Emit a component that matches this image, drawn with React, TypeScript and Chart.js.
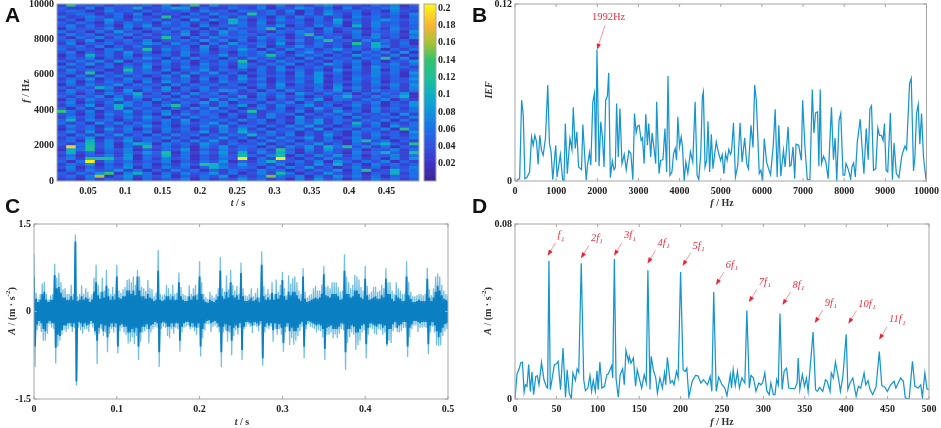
import { useEffect, useRef } from 'react';
import { Chart, registerables } from 'chart.js';

Chart.register(...registerables);
Chart.defaults.font.family = '"Liberation Serif", serif';

const RED = '#f0303f';
const TICK_FONT = { size: 10, weight: 'bold' as const };

// Panel A: time-frequency map, rows run from 10000 Hz down to 0 Hz, one char per cell (base 36, x0.01)
const heatRows = [
  '3c54635446 3725c38454 4637353684 54364725',
  '5337264593 4698253364 3725486352 73546834',
  '4652374536 3546374526 5463725374 46352743',
  '3465246372 5342637453 c463526385 36254637',
  '6347536254 3c36452637 4526374635 27463526',
  '3526485374 63528374a5 2637452639 45368646',
  '5364273645 27463514a6 3725463548 26374536',
  '4736352748 3546273546 3648253746 2a374635',
  '2645473625 7364526374 46c3546273 54263745',
  '6352638452 4637253846 3526475362 47354628',
  '3746254736 3548263745 536426c354 36274536',
  '5264736253 4c52637456 3746253846 26473527',
  '4638254637 2546384726 25364735c4 53746352',
  '3725463548 6374526384 4638253645 3c4a5362',
  '5463725364 3546283746 3725484635 264a7354',
  '635426734c 3746372548 5263746358 46372536',
  '4725363846 2537463526 4736258463 52647382',
  '253a463725 4637254836 46c5374625 38463725',
  '3647253648 5263745263 7463527364 5364c372',
  '5364738254 374625364c 2537463526 47362548',
  '2748362537 4635274638 5364725386 36254736',
  '6352463748 2537463528 4637254635 27384653',
  '3746523c46 3725483645 2637463528 46372635',
  '463c253746 5263748352 4635273846 25374628',
  '5263746352 4738254637 2546374825 36473526',
  '3648253746 2546372638 4725364835 27463548',
  '4725364627 3846253746 3526473825 46372546',
  '2637458364 5273646352 4738254637 25364738',
  '5364a72546 3826473546 2637453628 47352637',
  '3746253826 4735264873 5263743648 26374536',
  '46253746a3 5263746253 3746285364 72536482',
  '5364726385 4627354638 2637452536 a53746a2',
  '2637458362 7364528374 4625374826 53647253',
  '4725363746 2536483725 5364726354 36472538',
  '364825a746 37c5263748 2637458362 47362548',
  '526374a364 5263748352 4736253846 25374636',
  'e637254836 4725364625 c346372538 46273546',
  '4526374635 2837465263 5374625364 73546283',
  '3746253748 5263746352 6374283546 27354637',
  '5a37462536 4738254637 4625374836 53647263',
  '6352847365 2637458362 4635274836 3a472536',
  '3746253648 4625374836 5263748352 47362846',
  '2546384725 3746253748 3625473826 536472c5',
  '4738253647 263548374a 5374625364 27463528',
  '5263748352 6374625364 a463725384 26374536',
  '3648253746 4735264836 2637458362 47362547',
  '462a374836 5263748352 5374625364 27b46253',
  '536b4726a8 2746385364 4725364835 2637a53c',
  '3j5c47263c 4635274836 52637483a6 c4736254',
  '2a6c364725 3648253746 463c527384 36254736',
  '4a36253748 5c2637483a 374a625364 2746a53c',
  '3625473826 4a3625374b 537b263748 36254736',
  '473ccc5826 374625364k 263k425374 46352738',
  '526k374635 4725364825 36a5463728 53647253',
  '3648253746 25374ca648 463725384a 36274635',
  '4725364826 374625a746 5263748352 47362547',
  '2637458362 5374625364 3746253648 26c34a56',
  '53648e27a6 2637458362 473b625384 36254a36',
  '4637g25836 4725364825 35f6472638 47362546',
  '3426354726 3547263548 4635273846 25374635',
];
const heatStart = 0.0085;
const heatStep = 0.01277;
const heatEnd = 0.4937;
const aTimeTicks = [0.05, 0.1, 0.15, 0.2, 0.25, 0.3, 0.35, 0.4, 0.45];
const aFreqTicks = [0, 2000, 4000, 6000, 8000, 10000];
const barTicks = [0.02, 0.04, 0.06, 0.08, 0.1, 0.12, 0.14, 0.16, 0.18, 0.2];

// colour stops picked off the colour bar: [value, r, g, b]
const colourStops = [
  [0, 62, 38, 150],
  [0.02, 62, 52, 195],
  [0.04, 50, 82, 225],
  [0.06, 28, 112, 232],
  [0.08, 14, 148, 222],
  [0.1, 15, 175, 195],
  [0.12, 30, 190, 150],
  [0.14, 50, 195, 110],
  [0.16, 170, 195, 50],
  [0.18, 250, 180, 50],
  [0.205, 250, 250, 20],
];

// Panel B
const bFreq = [
  16, 113, 161, 201, 241, 290, 354, 402, 442, 483, 523, 563, 603, 644, 684, 740, 796, 837, 877, 917, 990, 1022, 1102,
  1158, 1191, 1223, 1271, 1335, 1384, 1416, 1464, 1504, 1545, 1617, 1649, 1730, 1762, 1810, 1842, 1891, 1931, 1963,
  1992, 2043, 2084, 2124, 2164, 2204, 2245, 2277, 2317, 2365, 2405, 2438, 2470, 2510, 2550, 2599, 2655, 2703, 2767,
  2816, 2864, 2904, 2944, 2977, 3017, 3065, 3097, 3138, 3178, 3218, 3250, 3298, 3331, 3379, 3419, 3443, 3500, 3540,
  3596, 3644, 3685, 3717, 3765, 3813, 3854, 3894, 3926, 3958, 3998, 4039, 4071, 4111, 4151, 4200, 4264, 4320, 4377,
  4425, 4465, 4513, 4553, 4578, 4618, 4658, 4690, 4730, 4771, 4811, 4851, 4891, 4940, 4996, 5035, 5076, 5116, 5156,
  5196, 5237, 5261, 5309, 5357, 5414, 5470, 5518, 5582, 5631, 5671, 5735, 5784, 5824, 5864, 5936, 5977, 6017, 6057,
  6113, 6154, 6210, 6274, 6323, 6371, 6411, 6459, 6524, 6564, 6636, 6677, 6709, 6757, 6797, 6829, 6894, 6958, 6990,
  7047, 7103, 7167, 7224, 7264, 7304, 7352, 7385, 7417, 7449, 7497, 7554, 7610, 7690, 7739, 7779, 7819, 7875, 7916,
  7972, 8012, 8044, 8093, 8157, 8189, 8229, 8270, 8318, 8390, 8439, 8479, 8535, 8583, 8624, 8664, 8712, 8768, 8817,
  8857, 8905, 8945, 8978, 9018, 9058, 9122, 9171, 9211, 9267, 9331, 9396, 9428, 9476, 9516, 9589, 9629, 9685, 9718,
  9758, 9798, 9838, 9879, 9927, 9991,
];
const bValue = [
  0, 0.0016, 0.0548, 0.0446, 0.0016, 0.0023, 0.0061, 0.0299, 0.0242, 0.031, 0.0265, 0.0113, 0.031, 0.0208, 0.0174,
  0.0288, 0.065, 0.0254, 0.0197, 0.0009, 0.0242, 0.0027, 0.0179, 0.0009, 0, 0.039, 0.005, 0.0288, 0.0213, 0.0499, 0.022,
  0.0333, 0.0095, 0.0077, 0.0383, 0.0005, 0.0107, 0.0193, 0.0107, 0.0537, 0.0594, 0.0129, 0.0891, 0.01, 0.0401, 0.0299,
  0.0095, 0.0548, 0.0576, 0.0734, 0.0023, 0.0136, 0.0077, 0.0091, 0.0526, 0.0163, 0.0492, 0.0118, 0.0181, 0.0077,
  0.0204, 0.0186, 0.0009, 0.0458, 0.0326, 0.0372, 0.0378, 0.0276, 0.0292, 0.0118, 0.0453, 0.0242, 0.039, 0.0163, 0.0326,
  0.0220, 0.0118, 0.0537, 0.005, 0.0140, 0.0145, 0.0356, 0.0061, 0.0711, 0.0039, 0.0061, 0.0186, 0.022, 0.0140, 0.0435,
  0.0231, 0.0299, 0.0231, 0, 0.0129, 0.0054, 0.0197, 0.0129, 0.0537, 0.0039, 0.0009, 0.0174, 0.0571, 0.0605, 0.0095,
  0.0140, 0.0405, 0.0061, 0.0317, 0.0084, 0.0181, 0.0265, 0.0197, 0.014, 0.0179, 0.005, 0.0186, 0.014, 0.0215, 0.0181,
  0.0197, 0.0394, 0.0027, 0.0107, 0.0394, 0.0129, 0.0292, 0.0118, 0.0084, 0.0378, 0.0227, 0.065, 0.0548, 0.005, 0.0073,
  0, 0.0288, 0.0129, 0.0091, 0.0043, 0.0231, 0.0487, 0.0027, 0.0378, 0.0032, 0.0208, 0.0095, 0.0367, 0.01, 0.0107,
  0.0231, 0.0016, 0.0249, 0.0242, 0.014, 0.0548, 0.0227, 0.0009, 0.0009, 0.0621, 0.0326, 0.0462, 0.0469, 0.01, 0.0621,
  0.0118, 0.0168, 0.0129, 0.0016, 0.0499, 0.0145, 0.0292, 0, 0.0412, 0.0458, 0.0039, 0.0039, 0.0118, 0.0084, 0.0016,
  0.0095, 0.0122, 0.0027, 0.0265, 0.0419, 0.0208, 0.005, 0.0356, 0.0145, 0.0487, 0.051, 0.0073, 0.0084, 0.036, 0.031,
  0.031, 0.0276, 0.039, 0.0073, 0.0061, 0.0462, 0.0009, 0.0258, 0.005, 0.0023, 0.0163, 0.0197, 0.0236, 0.0213, 0.0662,
  0.0696, 0.0068, 0.0163, 0.0458, 0.0519, 0.0249, 0.0458, 0.0163, 0.0005,
];
const bFreqTicks = [0, 1000, 2000, 3000, 4000, 5000, 6000, 7000, 8000, 9000, 10000];
const bValueTicks = [0, 0.12];

// Panel C: signal read as envelopes every 0.0025 s, in units of 0.01 m/s2
const cStep = 0.0025;
const cUpper = [
  98, 32, 22, 30, 48, 51, 30, 20, 28, 30, 82, 58, 66, 50, 38, 40, 30, 30, 46, 30, 132, 26, 30, 45, 30, 40, 34, 24, 30, 58,
  80, 46, 34, 58, 36, 71, 40, 30, 42, 30, 80, 36, 32, 38, 42, 54, 56, 50, 60, 46, 71, 60, 42, 40, 35, 54, 40, 38, 26, 32,
  105, 30, 28, 30, 46, 40, 30, 46, 30, 32, 67, 42, 30, 28, 26, 45, 30, 40, 46, 30, 86, 50, 30, 24, 22, 34, 28, 24, 30, 40,
  93, 40, 34, 62, 38, 71, 46, 36, 44, 30, 84, 40, 28, 26, 30, 40, 26, 32, 40, 24, 103, 44, 30, 38, 30, 51, 30, 55, 34, 46,
  68, 40, 28, 62, 48, 57, 60, 50, 36, 30, 74, 34, 24, 28, 30, 40, 44, 36, 36, 46, 78, 42, 44, 40, 50, 50, 50, 42, 34, 36,
  98, 60, 50, 40, 46, 63, 60, 55, 42, 36, 78, 44, 30, 34, 42, 43, 34, 36, 46, 40, 74, 50, 50, 36, 30, 50, 40, 36, 30, 30,
  86, 50, 34, 26, 26, 28, 30, 30, 28, 30, 75, 38, 28, 40, 60, 65, 60, 46, 36, 30, 28,
];
const cLower = [
  -95, -32, -25, -35, -50, -50, -38, -22, -28, -30, -89, -60, -50, -40, -32, -35, -30, -26, -35, -28, -127, -28, -32, -38,
  -30, -30, -35, -22, -28, -40, -90, -38, -30, -42, -36, -70, -38, -30, -36, -28, -72, -34, -28, -36, -40, -55, -52, -44,
  -56, -42, -83, -52, -36, -34, -30, -55, -36, -30, -26, -28, -95, -30, -26, -28, -42, -46, -30, -38, -28, -30, -69, -36,
  -28, -26, -24, -30, -28, -34, -40, -28, -77, -46, -32, -22, -22, -35, -26, -24, -28, -36, -95, -36, -32, -52, -36, -75,
  -42, -32, -40, -28, -83, -30, -26, -22, -26, -37, -24, -26, -34, -22, -93, -36, -28, -30, -26, -52, -30, -40, -30, -40,
  -69, -36, -26, -58, -46, -57, -50, -42, -34, -26, -80, -30, -22, -26, -28, -30, -36, -32, -34, -44, -83, -40, -40, -36,
  -46, -40, -46, -38, -30, -32, -100, -54, -44, -36, -40, -66, -58, -50, -36, -32, -80, -40, -28, -30, -38, -40, -30, -32,
  -40, -36, -60, -50, -54, -34, -28, -35, -36, -34, -28, -28, -78, -44, -30, -24, -24, -35, -28, -28, -26, -28, -73, -36,
  -26, -36, -58, -59, -58, -42, -34, -30, -35,
];
// the darker body of the trace, same sampling
const cCore = [
  60, 22, 16, 20, 30, 34, 20, 16, 20, 20, 62, 40, 42, 32, 24, 24, 20, 20, 26, 20, 120, 18, 20, 26, 20, 24, 22, 16, 20, 34,
  50, 28, 22, 34, 24, 44, 26, 20, 26, 20, 60, 24, 22, 26, 26, 36, 36, 30, 36, 28, 60, 36, 26, 26, 22, 30, 24, 22, 18, 20,
  70, 20, 18, 20, 26, 26, 20, 26, 20, 20, 50, 26, 20, 18, 18, 26, 20, 26, 28, 20, 60, 30, 20, 16, 15, 20, 18, 16, 20, 26,
  70, 26, 22, 34, 24, 50, 28, 24, 28, 20, 66, 26, 18, 18, 20, 24, 18, 20, 24, 16, 80, 26, 20, 24, 20, 32, 20, 30, 22, 28,
  54, 26, 20, 34, 28, 34, 34, 28, 22, 18, 60, 22, 16, 18, 20, 22, 24, 22, 24, 30, 64, 28, 26, 24, 30, 30, 30, 26, 20, 22,
  70, 30, 30, 24, 26, 36, 36, 30, 24, 22, 56, 28, 20, 22, 24, 26, 22, 22, 28, 24, 56, 30, 30, 22, 18, 28, 24, 22, 18, 18,
  60, 28, 22, 16, 16, 18, 20, 18, 18, 18, 56, 24, 18, 24, 34, 44, 36, 28, 22, 20, 18,
];
const cTimeTicks = [0, 0.1, 0.2, 0.3, 0.4, 0.5];
const cAmpTicks = [-1.5, 0, 1.5];

// Panel D
const dFreq = [
  0, 2.4, 5, 7, 9, 11, 12.5, 14.5, 16.5, 18.5, 20.5, 22.5, 25, 27, 29, 32, 35, 38, 39.4, 41, 42.6, 45, 47.5, 50, 52, 55, 58,
  61, 63, 65.5, 68, 70, 73, 75, 77, 80, 83, 85, 88, 90.5, 92.5, 94.5, 97, 99, 100.5, 102.5, 105, 108, 111, 112.6, 116.7, 118,
  120, 122, 124.7, 127, 130, 132, 134, 137, 138, 140, 143, 145.6, 147.6, 150, 153, 156, 158.5, 160.5, 163, 164.5, 167, 170,
  172, 175, 178, 180.6, 182, 184, 187.5, 190, 192, 195, 197, 200, 203, 205.5, 207.5, 210, 214, 218, 221, 224.5, 227.7, 232.5,
  235.7, 237.7, 240, 243, 246, 250, 253.4, 256, 260, 261.5, 263.5, 266, 268.7, 271, 274, 277.6, 280, 283, 285, 288, 291,
  294.4, 297, 299, 301.7, 304, 307, 309, 312, 314, 316, 318, 320, 322.6, 325, 328, 330.6, 334.7, 338, 340.7, 342, 344, 347,
  349.6, 352, 354, 360, 363, 365, 368, 371.7, 375, 377, 380.5, 382, 384.5, 387, 390.6, 393, 396, 400, 402, 404.7, 408, 412,
  414.7, 417.5, 421.6, 423.6, 426.4, 428.8, 432, 436, 440, 443, 446.5, 449.7, 453.7, 457.8, 460, 465.8, 469, 471.4, 476, 480,
  483, 487, 490, 492, 495, 497.5, 500,
];
const dValue = [
  0, 0.0114, 0.0138, 0.0166, 0.0169, 0.0032, 0.0065, 0.0058, 0.0157, 0.0035, 0.0123, 0.002, 0.0103, 0.0106, 0.0065, 0.0167,
  0.0088, 0.0055, 0.005, 0.0632, 0.0043, 0.0096, 0.0157, 0.0161, 0.0172, 0.0043, 0.0233, 0.0008, 0.0134, 0.0027, 0.0002,
  0.0119, 0.0085, 0.0137, 0.0122, 0.062, 0.0088, 0.0038, 0.005, 0.0108, 0.0035, 0.0085, 0.0035, 0.0129, 0.0043, 0.0169, 0.005,
  0.0058, 0.0111, 0.0114, 0.0152, 0.0096, 0.064, 0.0096, 0.0008, 0.0111, 0.0138, 0.0065, 0.0222, 0.0172, 0.0195, 0.0164,
  0.0187, 0.0058, 0.0134, 0.0096, 0.005, 0.0111, 0.0073, 0.0588, 0.0043, 0.0195, 0.0134, 0.0096, 0.0027, 0.0096, 0.005,
  0.0119, 0.0065, 0.019, 0.0073, 0.0084, 0.0065, 0.0126, 0.0096, 0.0581, 0.0134, 0.0126, 0.0141, 0.0009, 0.0081, 0.0108,
  0.0106, 0.0073, 0.0088, 0.0065, 0.0103, 0.0035, 0.0489, 0.0035, 0.01, 0.0065, 0.005, 0.0015, 0.0111, 0.005, 0.0134, 0.0061,
  0.0126, 0.005, 0.0096, 0.0073, 0.0404, 0.005, 0.0108, 0.0096, 0.0035, 0.0073, 0.0065, 0.0073, 0.0119, 0.0038, 0.002, 0.0073,
  0.002, 0.002, 0.0088, 0.0065, 0.0391, 0.0043, 0.0126, 0.0141, 0.005, 0.0047, 0.0047, 0.0073, 0.0187, 0.0043, 0.0111, 0.0058,
  0.0096, 0.0035, 0.0306, 0.0043, 0.0035, 0.0053, 0.0035, 0.0088, 0.0081, 0.0035, 0.0119, 0.0096, 0.0169, 0.0096, 0.0035,
  0.0103, 0.0296, 0.0043, 0.0073, 0.0096, 0.0012, 0.0058, 0.005, 0.0119, 0.0065, 0.0084, 0.0043, 0.002, 0.0055, 0.0217, 0.0062,
  0.0055, 0.0035, 0.0065, 0.0081, 0.005, 0.0096, 0.0081, 0.0005, 0, 0.0172, 0.0058, 0.005, 0.0065, 0.0008, 0.0119, 0.0046,
  0.0044,
];
const dFreqTicks = [0, 50, 100, 150, 200, 250, 300, 350, 400, 450, 500];
const dValueTicks = [0, 0.08];

// harmonic labels of panel D and where their arrows end
const noteLabels = ['f', '2f', '3f', '4f', '5f', '6f', '7f', '8f', '9f', '10f', '11f'];
const noteFreq = [39.4, 79.6, 119.5, 160, 202.3, 242.6, 282.4, 323, 362, 402.6, 439.7];
const noteValue = [0.0655, 0.0643, 0.0655, 0.062, 0.0608, 0.0521, 0.0442, 0.043, 0.0347, 0.0344, 0.0271];

const cellValue = (ch: string) => {
  const v = parseInt(ch, 36);
  return Number.isNaN(v) ? 0.04 : v / 100;
};

const colourFor = (v: number) => {
  for (let i = 1; i < colourStops.length; i++) {
    const a = colourStops[i - 1];
    const b = colourStops[i];
    if (v <= b[0]) {
      const k = (v - a[0]) / (b[0] - a[0]);
      const c = [1, 2, 3].map((j) => Math.round(a[j] + (b[j] - a[j]) * k));
      return `rgb(${c[0]},${c[1]},${c[2]})`;
    }
  }
  return 'rgb(250,250,20)';
};

// boxed frame with short inward ticks, like the MATLAB axes of the figure
const framePlugin = {
  id: 'frame',
  afterDatasetsDraw(chart: any) {
    const { ctx, chartArea: area, scales } = chart;
    const noTicks = chart.options.plugins.frame?.noTicks;
    ctx.save();
    ctx.strokeStyle = '#a6a6a6';
    ctx.lineWidth = 1;
    ctx.strokeRect(area.left, area.top, area.right - area.left, area.bottom - area.top);
    if (!noTicks) {
      ctx.beginPath();
      scales.x.ticks.forEach((t: any) => {
        const px = scales.x.getPixelForValue(t.value);
        ctx.moveTo(px, area.bottom);
        ctx.lineTo(px, area.bottom - 3);
        ctx.moveTo(px, area.top);
        ctx.lineTo(px, area.top + 3);
      });
      scales.y.ticks.forEach((t: any) => {
        const py = scales.y.getPixelForValue(t.value);
        ctx.moveTo(area.left, py);
        ctx.lineTo(area.left + 3, py);
        ctx.moveTo(area.right, py);
        ctx.lineTo(area.right - 3, py);
      });
      ctx.stroke();
    }
    ctx.restore();
  },
};

const drawArrow = (ctx: any, x: number, y: number, tailX: number, tailY: number) => {
  const len = Math.hypot(tailX - x, tailY - y);
  const ux = (tailX - x) / len;
  const uy = (tailY - y) / len;
  ctx.strokeStyle = '#f58a93';
  ctx.lineWidth = 0.9;
  ctx.beginPath();
  ctx.moveTo(x + ux * 3, y + uy * 3);
  ctx.lineTo(tailX, tailY);
  ctx.stroke();
  ctx.fillStyle = '#ee2035';
  ctx.beginPath();
  ctx.moveTo(x, y);
  ctx.lineTo(x + ux * 6 - uy * 2.2, y + uy * 6 + ux * 2.2);
  ctx.lineTo(x + ux * 6 + uy * 2.2, y + uy * 6 - ux * 2.2);
  ctx.closePath();
  ctx.fill();
};

// arrows sit on data positions, the texts hang off their tails
const notesPlugin = {
  id: 'notes',
  afterDatasetsDraw(chart: any) {
    const { ctx, scales } = chart;
    const notes = chart.options.plugins.notes?.items ?? [];
    ctx.save();
    ctx.textBaseline = 'middle';
    notes.forEach((n: any) => {
      const x = scales.x.getPixelForValue(n.x);
      const y = scales.y.getPixelForValue(n.y);
      drawArrow(ctx, x, y, x + n.tailX, y + n.tailY);
      ctx.fillStyle = RED;
      ctx.font = n.font;
      ctx.fillText(n.text, x + n.textX, y + n.textY);
      if (n.sub) {
        const w = ctx.measureText(n.text).width;
        ctx.font = 'italic 7px "Liberation Serif"';
        ctx.fillText(n.sub, x + n.textX + w + 0.5, y + n.textY + 3);
      }
    });
    ctx.restore();
  },
};

const axisX = (ticks: number[], min: number, max: number, height: number, extra = {}) => ({
  type: 'linear',
  min,
  max,
  offset: false,
  grid: { display: false, drawTicks: false },
  border: { display: false },
  afterBuildTicks: (s: any) => {
    s.ticks = ticks.map((value) => ({ value }));
  },
  afterFit: (s: any) => {
    s.height = height;
  },
  ticks: {
    autoSkip: false,
    maxRotation: 0,
    padding: 4,
    color: '#222',
    font: TICK_FONT,
    callback: (v: number) => String(v),
  },
  ...extra,
});

const axisY = (ticks: number[], min: number, max: number, width: number, extra = {}, padding = 3) => ({
  type: 'linear',
  min,
  max,
  grid: { display: false, drawTicks: false },
  border: { display: false },
  afterBuildTicks: (s: any) => {
    s.ticks = ticks.map((value) => ({ value }));
  },
  afterFit: (s: any) => {
    s.width = width;
  },
  ticks: {
    autoSkip: false,
    padding,
    color: '#222',
    font: TICK_FONT,
    callback: (v: number) => String(v),
  },
  ...extra,
});

const baseOptions = (plugins = {}) => ({
  responsive: false,
  animation: false,
  events: [],
  layout: { padding: { top: 10, right: 14 } },
  plugins: { legend: { display: false }, tooltip: { enabled: false }, ...plugins },
});

const line = (xs: number[], ys: number[]) => xs.map((x, i) => ({ x, y: ys[i] }));

// zigzag between two envelopes so the trace fills up like the dense recording
const zigzag = (ups: number[], downs: number[]) =>
  ups.flatMap((u, i) => [
    { x: i * cStep, y: u / 100 },
    { x: (i + 0.5) * cStep, y: downs[i] / 100 },
  ]);

const heatCells = heatRows.map((r) => r.replace(/ /g, ''));
const heatColumns = heatCells[0].split('').map((_, i) => heatStart + (i + 0.5) * heatStep);

const heatmapConfig = () => ({
  type: 'bar',
  data: {
    // stacked from the bottom row upwards
    datasets: [...heatCells].reverse().map((row) => ({
      data: heatColumns.map((x) => ({ x, y: 10000 / heatCells.length })),
      backgroundColor: row.split('').map((ch) => colourFor(cellValue(ch))),
      borderWidth: 0,
      barPercentage: 1,
      categoryPercentage: 1,
    })),
  },
  options: {
    ...baseOptions({ frame: { noTicks: true } }),
    scales: {
      x: axisX(aTimeTicks, heatStart, heatEnd, 30, { stacked: true }),
      y: axisY(aFreqTicks, 0, 10000, 57, { stacked: true }),
    },
  },
  plugins: [framePlugin],
});

const colourLevels = Array.from({ length: 82 }, (_, i) => (i + 0.5) * 0.0025);

const colourBarConfig = () => ({
  type: 'bar',
  data: {
    labels: [''],
    datasets: colourLevels.map((v) => ({
      data: [0.0025],
      backgroundColor: colourFor(v),
      borderWidth: 0,
      barPercentage: 1,
      categoryPercentage: 1,
    })),
  },
  options: {
    ...baseOptions({ frame: { noTicks: true } }),
    layout: { padding: { top: 10, left: 4 } },
    scales: {
      x: {
        stacked: true,
        grid: { display: false, drawTicks: false },
        border: { display: false },
        ticks: { display: false },
        afterFit: (s: any) => {
          s.height = 30;
        },
      },
      y: axisY(barTicks, 0, 0.205, 34, { stacked: true, position: 'right' }, 2),
    },
  },
  plugins: [framePlugin],
});

const lineConfig = (datasets: any[], scales: any, plugins = {}) => ({
  type: 'line',
  data: { datasets },
  options: { ...baseOptions(plugins), scales },
  plugins: [framePlugin, notesPlugin],
});

const traceStyle = { borderColor: '#1796cd', borderWidth: 1.25, pointRadius: 0, tension: 0 };

const panelB = () =>
  lineConfig(
    [{ data: line(bFreq, bValue), ...traceStyle }],
    { x: axisX(bFreqTicks, 0, 10000, 30), y: axisY(bValueTicks, 0, 0.12, 45) },
    {
      notes: {
        items: [
          {
            x: 1992,
            y: 0.0891,
            tailX: 8,
            tailY: -24,
            text: '1992Hz',
            textX: -5,
            textY: -32,
            font: '10.5px "Liberation Serif"',
          },
        ],
      },
    },
  );

const panelC = () =>
  lineConfig(
    [
      { data: zigzag(cCore, cCore.map((v) => -v)), borderColor: '#0a7fc2', borderWidth: 1.8, pointRadius: 0, order: 0 },
      { data: zigzag(cUpper, cLower), borderColor: '#74bfe3', borderWidth: 1.3, pointRadius: 0, order: 1 },
    ],
    { x: axisX(cTimeTicks, 0, 0.5, 29), y: axisY(cAmpTicks, -1.5, 1.5, 34) },
  );

const panelD = () =>
  lineConfig(
    [{ data: line(dFreq, dValue), ...traceStyle }],
    { x: axisX(dFreqTicks, 0, 500, 29), y: axisY(dValueTicks, 0, 0.08, 45) },
    {
      notes: {
        items: noteLabels.map((text, i) => ({
          x: noteFreq[i],
          y: noteValue[i],
          tailX: 8,
          tailY: -13,
          text,
          sub: '1',
          textX: 10,
          textY: -20,
          font: 'italic 10.5px "Liberation Serif"',
        })),
      },
    },
  );

interface PanelProps {
  left: number;
  top: number;
  width: number;
  height: number;
  build: () => any;
}

const Panel = ({ left, top, width, height, build }: PanelProps) => {
  const canvasRef = useRef<HTMLCanvasElement | null>(null);

  useEffect(() => {
    if (!canvasRef.current) return;
    const chart = new Chart(canvasRef.current, build());
    return () => chart.destroy();
  }, [build]);

  return (
    <canvas
      ref={canvasRef}
      width={width}
      height={height}
      style={{ position: 'absolute', left, top, width, height }}
    />
  );
};

const Letter = ({ x, y, children }: any) => (
  <div
    style={{
      position: 'absolute',
      left: x,
      top: y,
      font: 'bold 21px "Liberation Sans", sans-serif',
      lineHeight: '21px',
      color: '#111',
    }}
  >
    {children}
  </div>
);

const AxisText = ({ x, y, rotate, children }: any) => (
  <div
    style={{
      position: 'absolute',
      left: x,
      top: y,
      transform: `translate(-50%, -50%)${rotate ? ' rotate(-90deg)' : ''}`,
      font: 'bold 10px "Liberation Serif", serif',
      color: '#333',
      whiteSpace: 'nowrap',
    }}
  >
    {children}
  </div>
);

const AmpTitle = () => (
  <>
    <i>A</i> / (m · s<sup style={{ fontSize: 7, lineHeight: 0 }}>-2</sup>)
  </>
);

export default function App() {
  return (
    <div style={{ position: 'absolute', left: 0, top: 0, width: 941, height: 428, overflow: 'hidden', background: '#fff' }}>
      <Panel left={0} top={-6} width={433} height={217} build={heatmapConfig} />
      <Panel left={420} top={-6} width={50} height={217} build={colourBarConfig} />
      <Panel left={470} top={-6} width={473} height={217} build={panelB} />
      <Panel left={0} top={214} width={462} height={214} build={panelC} />
      <Panel left={470} top={214} width={473} height={214} build={panelD} />

      <Letter x={5} y={4}>A</Letter>
      <Letter x={472} y={4}>B</Letter>
      <Letter x={5} y={195}>C</Letter>
      <Letter x={472} y={195}>D</Letter>

      <AxisText x={25} y={91} rotate><i>f</i> / Hz</AxisText>
      <AxisText x={238} y={202}><i>t</i> / s</AxisText>
      <AxisText x={488} y={90} rotate><i>IEF</i></AxisText>
      <AxisText x={722} y={202}><i>f</i> / Hz</AxisText>
      <AxisText x={11} y={311} rotate><AmpTitle /></AxisText>
      <AxisText x={242} y={421}><i>t</i> / s</AxisText>
      <AxisText x={487} y={311} rotate><AmpTitle /></AxisText>
      <AxisText x={722} y={421}><i>f</i> / Hz</AxisText>
    </div>
  );
}
